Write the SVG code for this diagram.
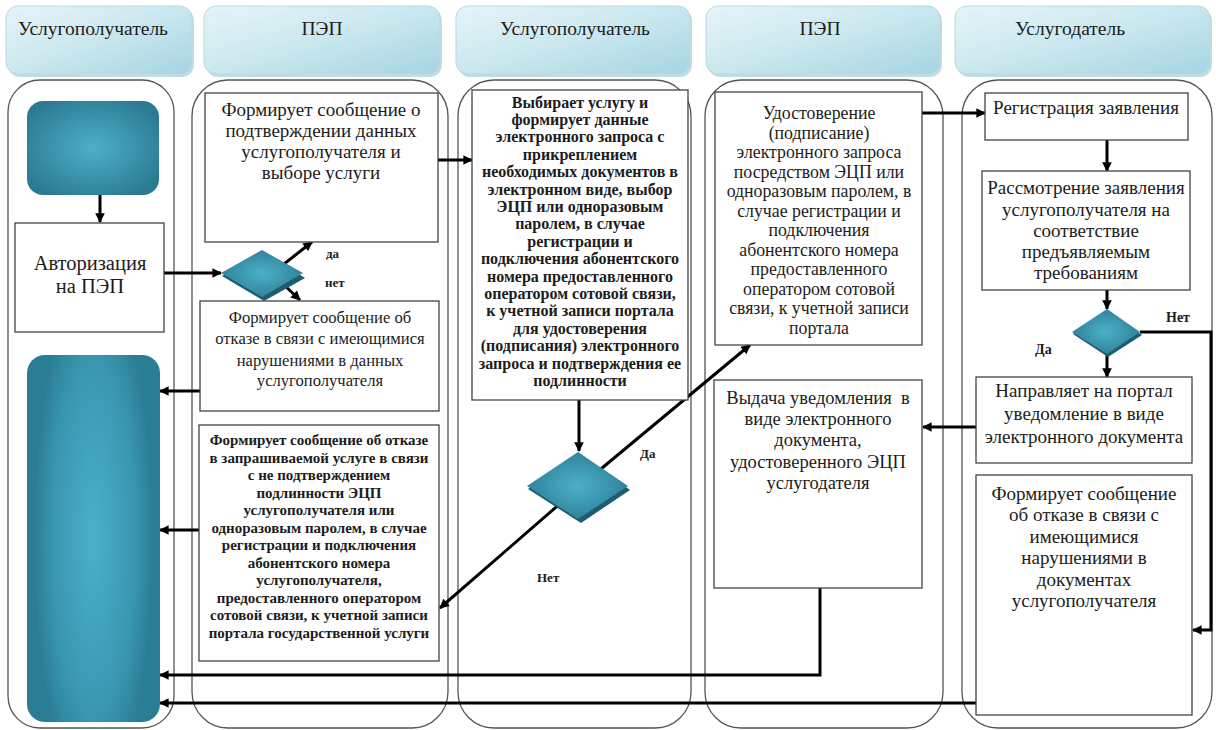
<svg xmlns="http://www.w3.org/2000/svg" width="1216" height="730" viewBox="0 0 1216 730">
  <defs>
    <linearGradient id="hdrFill" x1="0" y1="0" x2="1" y2="1">
      <stop offset="0" stop-color="#e6f4f8"/>
      <stop offset="0.45" stop-color="#cde9f0"/>
      <stop offset="1" stop-color="#a6d5e1"/>
    </linearGradient>
    <radialGradient id="tealFill" cx="0.5" cy="0.5" r="0.6">
      <stop offset="0" stop-color="#4cb0c8"/>
      <stop offset="1" stop-color="#2a7a92"/>
    </radialGradient>
    <radialGradient id="tealTall" cx="0.5" cy="0.5" r="0.5" gradientTransform="translate(0.5 0.5) scale(0.9 1.4) translate(-0.5 -0.5)">
      <stop offset="0" stop-color="#4ab0c9"/>
      <stop offset="0.7" stop-color="#3996b0"/>
      <stop offset="1" stop-color="#2b7d95"/>
    </radialGradient>
    <marker id="ah" viewBox="0 0 10 10" refX="9" refY="5" markerWidth="3.6" markerHeight="3.2" orient="auto" markerUnits="strokeWidth">
      <path d="M0,0 L10,5 L0,10 z" fill="#000"/>
    </marker>
    <style>
      .hdr { fill: url(#hdrFill); stroke: #b7d9e2; stroke-width: 1; }
      .hdrShadow { fill: #8fbfcc; opacity: 0.55; }
      .hdrText { font-family: "Liberation Serif", "Times New Roman", serif; font-size: 19.5px; fill: #1c1c1c; text-anchor: middle; }
      .lane { fill: none; stroke: #555; stroke-width: 1.3; }
      .box { fill: #fff; stroke: #444; stroke-width: 1.3; }
      .teal { fill: url(#tealFill); }
      .tealEdge { fill: #1d5d70; }
      .t { font-family: "Liberation Serif", "Times New Roman", serif; fill: #1c1c1c; text-anchor: middle; }
      .f20 { font-size: 20.5px; }
      .f19 { font-size: 19px; }
      .f18 { font-size: 18.5px; }
      .f17 { font-size: 17.8px; }
      .f16 { font-size: 16.6px; }
      .fs { font-size: 15px; font-weight: bold; }
      .fs2 { font-size: 16px; font-weight: bold; }
      .lbl { font-family: "Liberation Serif", "Times New Roman", serif; font-size: 13px; font-weight: bold; fill: #1c1c1c; }
      .lbl2 { font-family: "Liberation Serif", "Times New Roman", serif; font-size: 14px; font-weight: bold; fill: #1c1c1c; }
      .conn { fill: none; stroke: #000; stroke-width: 3; }
    </style>
  </defs>

  <rect width="1216" height="730" fill="#fff"/>

  <!-- column headers -->
  <g id="headers">
    <rect class="hdrShadow" x="8" y="9" width="186" height="68" rx="12"/>
    <rect class="hdr" x="6" y="6" width="186" height="68" rx="12"/>
    <text class="hdrText" x="93" y="35">Услугополучатель</text>

    <rect class="hdrShadow" x="206" y="9" width="236" height="68" rx="12"/>
    <rect class="hdr" x="204" y="6" width="236" height="68" rx="12"/>
    <text class="hdrText" x="322" y="35">ПЭП</text>

    <rect class="hdrShadow" x="458" y="9" width="234" height="68" rx="12"/>
    <rect class="hdr" x="456" y="6" width="234" height="68" rx="12"/>
    <text class="hdrText" x="575" y="35">Услугополучатель</text>

    <rect class="hdrShadow" x="708" y="9" width="234" height="68" rx="12"/>
    <rect class="hdr" x="706" y="6" width="234" height="68" rx="12"/>
    <text class="hdrText" x="820" y="35">ПЭП</text>

    <rect class="hdrShadow" x="957" y="9" width="255" height="68" rx="12"/>
    <rect class="hdr" x="955" y="6" width="255" height="68" rx="12"/>
    <text class="hdrText" x="1070" y="35">Услугодатель</text>
  </g>

  <!-- swimlanes -->
  <g id="lanes">
    <rect class="lane" x="8" y="80" width="166" height="648" rx="32"/>
    <rect class="lane" x="192" y="80" width="256" height="648" rx="36"/>
    <rect class="lane" x="458" y="80" width="233" height="648" rx="36"/>
    <rect class="lane" x="705" y="80" width="238" height="648" rx="36"/>
    <rect class="lane" x="962" y="80" width="250" height="648" rx="36"/>
  </g>

  <!-- connectors -->
  <g id="connectors">
    <path class="conn" d="M100,195 L100,222" marker-end="url(#ah)"/>
    <path class="conn" d="M164,273 L221,273" marker-end="url(#ah)"/>
    <path class="conn" d="M284,264 L312,242" marker-end="url(#ah)"/>
    <path class="conn" d="M283,284 L300,300" marker-end="url(#ah)"/>
    <path class="conn" d="M438,160 L472,160" marker-end="url(#ah)"/>
    <path class="conn" d="M200,391 L160,391" marker-end="url(#ah)"/>
    <path class="conn" d="M199,530 L160,530" marker-end="url(#ah)"/>
    <path class="conn" d="M579,400 L579,451" marker-end="url(#ah)"/>
    <path class="conn" d="M578,488 L750,345" marker-end="url(#ah)"/>
    <path class="conn" d="M578,488 L440,608" marker-end="url(#ah)"/>
    <path class="conn" d="M922,113 L985,113" marker-end="url(#ah)"/>
    <path class="conn" d="M1107,140 L1107,171" marker-end="url(#ah)"/>
    <path class="conn" d="M1107,290 L1107,309" marker-end="url(#ah)"/>
    <path class="conn" d="M1140,332 L1211,332 L1211,630 L1193,630" marker-end="url(#ah)"/>
    <path class="conn" d="M1107,355 L1107,377" marker-end="url(#ah)"/>
    <path class="conn" d="M976,427 L923,427" marker-end="url(#ah)"/>
    <path class="conn" d="M820,588 L820,675 L160,675" marker-end="url(#ah)"/>
    <path class="conn" d="M976,703 L160,703" marker-end="url(#ah)"/>
  </g>

  <!-- lane 1: service recipient -->
  <g id="start">
    <rect class="teal" x="27" y="101" width="132" height="94" rx="16"/>
  </g>
  <g id="auth">
    <rect class="box" x="15" y="223" width="149" height="109"/>
    <text class="t f20" x="90" y="270">Авторизация</text>
    <text class="t f20" x="90" y="293">на ПЭП</text>
  </g>
  <g id="end">
    <rect x="27" y="355" width="133" height="367" rx="18" fill="url(#tealTall)"/>
  </g>

  <!-- lane 2: portal -->
  <g id="decision-auth">
    <polygon class="tealEdge" points="222,276 262,251 305,278 264,301"/>
    <polygon class="teal" points="221,273 262,250 303,273 262,297"/>
  </g>
  <g id="confirm-data">
    <rect class="box" x="205" y="93" width="233" height="149"/>
    <text class="t f19" x="321" y="116">Формирует сообщение о</text>
    <text class="t f19" x="321" y="137">подтверждении данных</text>
    <text class="t f19" x="321" y="158">услугополучателя и</text>
    <text class="t f19" x="321" y="179">выборе услуги</text>
  </g>
  <g id="reject-data">
    <rect class="box" x="200" y="301" width="239" height="110"/>
    <text class="t f16" x="320" y="323">Формирует сообщение об</text>
    <text class="t f16" x="320" y="344">отказе в связи с имеющимися</text>
    <text class="t f16" x="320" y="366">нарушениями в данных</text>
    <text class="t f16" x="320" y="386">услугополучателя</text>
  </g>
  <g id="reject-signature">
    <rect class="box" x="199" y="425" width="240" height="236"/>
    <text class="t fs" x="319" y="445">Формирует сообщение об отказе</text>
    <text class="t fs" x="319" y="462.5">в запрашиваемой услуге в связи</text>
    <text class="t fs" x="319" y="480">с не подтверждением</text>
    <text class="t fs" x="319" y="497.5">подлинности ЭЦП</text>
    <text class="t fs" x="319" y="515">услугополучателя или</text>
    <text class="t fs" x="319" y="532.5">одноразовым паролем, в случае</text>
    <text class="t fs" x="319" y="550">регистрации и подключения</text>
    <text class="t fs" x="319" y="567.5">абонентского номера</text>
    <text class="t fs" x="319" y="585">услугополучателя,</text>
    <text class="t fs" x="319" y="602.5">предоставленного оператором</text>
    <text class="t fs" x="319" y="620">сотовой связи, к учетной записи</text>
    <text class="t fs" x="319" y="637.5">портала государственной услуги</text>
  </g>

  <!-- lane 3: service recipient -->
  <g id="select-service">
    <rect class="box" x="472" y="90" width="216" height="310"/>
    <text class="t fs2" x="580" y="107.5">Выбирает услугу и</text>
    <text class="t fs2" x="580" y="124.9">формирует данные</text>
    <text class="t fs2" x="580" y="142.3">электронного запроса с</text>
    <text class="t fs2" x="580" y="159.7">прикреплением</text>
    <text class="t fs2" x="580" y="177.1">необходимых документов в</text>
    <text class="t fs2" x="580" y="194.5">электронном виде, выбор</text>
    <text class="t fs2" x="580" y="211.9">ЭЦП или одноразовым</text>
    <text class="t fs2" x="580" y="229.3">паролем, в случае</text>
    <text class="t fs2" x="580" y="246.7">регистрации и</text>
    <text class="t fs2" x="580" y="264.1">подключения абонентского</text>
    <text class="t fs2" x="580" y="281.5">номера предоставленного</text>
    <text class="t fs2" x="580" y="298.9">оператором сотовой связи,</text>
    <text class="t fs2" x="580" y="316.3">к учетной записи портала</text>
    <text class="t fs2" x="580" y="333.7">для удостоверения</text>
    <text class="t fs2" x="580" y="351.1">(подписания) электронного</text>
    <text class="t fs2" x="580" y="368.5">запроса и подтверждения ее</text>
    <text class="t fs2" x="580" y="385.9">подлинности</text>
  </g>
  <g id="decision-sign">
    <polygon class="tealEdge" points="528,489 579,453 630,490 581,523"/>
    <polygon class="teal" points="527,486 578,452 628,486 578,519"/>
  </g>

  <!-- lane 4: portal -->
  <g id="sign-request">
    <rect class="box" x="715" y="92" width="207" height="253"/>
    <text class="t f17" x="819" y="119">Удостоверение</text>
    <text class="t f17" x="819" y="138.5">(подписание)</text>
    <text class="t f17" x="819" y="158">электронного запроса</text>
    <text class="t f17" x="819" y="177.5">посредством ЭЦП или</text>
    <text class="t f17" x="819" y="197">одноразовым паролем, в</text>
    <text class="t f17" x="819" y="216.5">случае регистрации и</text>
    <text class="t f17" x="819" y="236">подключения</text>
    <text class="t f17" x="819" y="255.5">абонентского номера</text>
    <text class="t f17" x="819" y="275">предоставленного</text>
    <text class="t f17" x="819" y="294.5">оператором сотовой</text>
    <text class="t f17" x="819" y="314">связи, к учетной записи</text>
    <text class="t f17" x="819" y="333.5">портала</text>
  </g>
  <g id="issue-notice">
    <rect class="box" x="714" y="380" width="208" height="208"/>
    <text class="t f18" x="818" y="404" xml:space="preserve">Выдача уведомления  в</text>
    <text class="t f18" x="818" y="425">виде электронного</text>
    <text class="t f18" x="818" y="446">документа,</text>
    <text class="t f18" x="818" y="468">удостоверенного ЭЦП</text>
    <text class="t f18" x="818" y="489">услугодателя</text>
  </g>

  <!-- lane 5: service provider -->
  <g id="register">
    <rect class="box" x="985" y="93" width="203" height="47"/>
    <text class="t f19" x="1086" y="114">Регистрация заявления</text>
  </g>
  <g id="review">
    <rect class="box" x="982" y="171" width="208" height="119"/>
    <text class="t f19" x="1086" y="194">Рассмотрение заявления</text>
    <text class="t f19" x="1086" y="216">услугополучателя на</text>
    <text class="t f19" x="1086" y="237">соответствие</text>
    <text class="t f19" x="1086" y="258">предъявляемым</text>
    <text class="t f19" x="1086" y="279">требованиям</text>
  </g>
  <g id="decision-review">
    <polygon class="tealEdge" points="1073,334 1107,311 1142,335 1108,357"/>
    <polygon class="teal" points="1072,332 1107,309 1140,332 1107,354"/>
  </g>
  <g id="send-notice">
    <rect class="box" x="976" y="377" width="216" height="86"/>
    <text class="t f19" x="1084" y="397">Направляет на портал</text>
    <text class="t f19" x="1084" y="420">уведомление в виде</text>
    <text class="t f19" x="1084" y="443">электронного документа</text>
  </g>
  <g id="reject-docs">
    <rect class="box" x="976" y="475" width="216" height="240"/>
    <text class="t f19" x="1084" y="500">Формирует сообщение</text>
    <text class="t f19" x="1084" y="521">об отказе в связи с</text>
    <text class="t f19" x="1084" y="543">имеющимися</text>
    <text class="t f19" x="1084" y="564">нарушениями в</text>
    <text class="t f19" x="1084" y="586">документах</text>
    <text class="t f19" x="1084" y="607">услугополучателя</text>
  </g>

  <!-- branch labels -->
  <g id="labels">
    <text class="lbl" x="326" y="258">да</text>
    <text class="lbl" x="325" y="287">нет</text>
    <text class="lbl" x="640" y="458">Да</text>
    <text class="lbl" x="537" y="582">Нет</text>
    <text class="lbl2" x="1166" y="322">Нет</text>
    <text class="lbl2" x="1035" y="354">Да</text>
  </g>
</svg>
